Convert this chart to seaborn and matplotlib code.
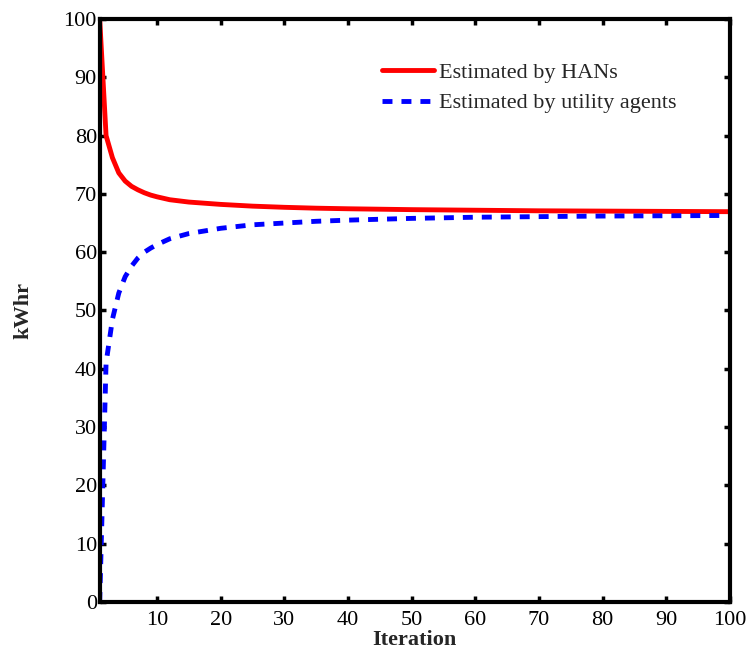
import matplotlib
matplotlib.use("Agg")
import matplotlib.pyplot as plt
import seaborn as sns
import pandas as pd

# Consensus estimates of total energy demand per iteration
iterations = [1, 2, 3, 4, 5, 6, 7, 8, 9, 10, 12, 15, 20, 25, 30, 35, 40,
              50, 60, 70, 80, 90, 100]
han_estimate = [100, 80, 76.2, 73.6, 72.2, 71.3, 70.7, 70.2, 69.8, 69.5, 69.0,
                68.6, 68.2, 67.9, 67.7, 67.55, 67.45, 67.3, 67.2, 67.1, 67.05,
                67.0, 66.95]
utility_estimate = [0, 41, 48.5, 53, 55.8, 57.6, 59, 60, 60.7, 61.3, 62.3,
                    63.2, 64.1, 64.7, 65.0, 65.3, 65.5, 65.8, 66.0, 66.1, 66.2,
                    66.25, 66.3]
series_names = ["Estimated by HANs", "Estimated by utility agents"]
x_ticks = [10, 20, 30, 40, 50, 60, 70, 80, 90, 100]
y_ticks = [0, 10, 20, 30, 40, 50, 60, 70, 80, 90, 100]

df = pd.DataFrame({
    "Iteration": iterations * 2,
    "kWhr": han_estimate + utility_estimate,
    "series": [series_names[0]] * len(iterations) + [series_names[1]] * len(iterations),
})

sns.set_theme(style="ticks")
plt.rcParams["font.family"] = ["Liberation Serif", "DejaVu Serif"]

fig = plt.figure(figsize=(7.48, 6.51), dpi=100)
ax = fig.add_axes([99.7 / 748, 1 - 602 / 651, (730 - 99.7) / 748, (602 - 19) / 651])

sns.lineplot(data=df[df.series == series_names[0]], x="Iteration", y="kWhr",
             color="#ff0000", linewidth=3.5, label=series_names[0], ax=ax)
sns.lineplot(data=df[df.series == series_names[1]], x="Iteration", y="kWhr",
             color="#0000ff", linewidth=3.5, label=series_names[1], ax=ax)
ax.lines[1].set_dashes((2.05, 1.85))

ax.set_xlim(1, 100)
ax.set_ylim(0, 100)
ax.set_xticks(x_ticks)
ax.set_yticks(y_ticks)
ax.set_xticklabels([str(t) for t in x_ticks], fontsize=16)
ax.set_yticklabels([str(t) for t in y_ticks], fontsize=16)

for s in ax.spines.values():
    s.set_visible(True)
    s.set_linewidth(3)
    s.set_color("black")
ax.tick_params(direction="in", length=4.5, width=2.5, top=True, right=True,
               colors="black")
ax.tick_params(axis="x", pad=6.5)
ax.tick_params(axis="y", pad=2)

ax.set_xlabel("Iteration", fontsize=16, fontweight="bold", labelpad=0)
ax.set_ylabel("kWhr", fontsize=16, fontweight="bold", labelpad=22)

leg = ax.legend(loc="upper right", bbox_to_anchor=(0.947, 0.96), frameon=False,
                fontsize=16, handlelength=2.3, handletextpad=0.25,
                labelspacing=0.45)
leg.get_lines()[1].set_dashes((2.05, 1.85))

fig.savefig("out.png", dpi=100, facecolor="white")
